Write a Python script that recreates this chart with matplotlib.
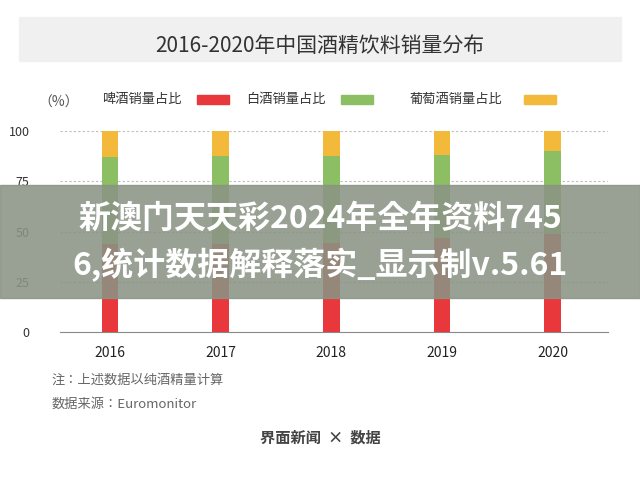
import matplotlib
matplotlib.use("Agg")
import matplotlib.pyplot as plt
from matplotlib import font_manager
from matplotlib.patches import Rectangle
import numpy as np

avail = {f.name for f in font_manager.fontManager.ttflist}
cjk = [n for n in ["Noto Sans CJK SC", "Noto Sans CJK JP", "Noto Sans CJK TC", "Noto Sans CJK KR", "Noto Sans SC"] if n in avail]
if not cjk:
    cjk = [f.name for f in font_manager.fontManager.ttflist if "CJK" in f.name or "CJK" in f.fname][:1]
plt.rcParams["font.family"] = cjk + ["DejaVu Sans"]

years = ["2016", "2017", "2018", "2019", "2020"]
beer = [43.6, 43.6, 44.5, 47.0, 49.0]
baijiu = [43.8, 44.2, 43.3, 41.0, 41.0]
wine = [12.6, 12.2, 12.2, 12.0, 10.0]
yticks = [0, 25, 50, 75, 100]
series_names = ["啤酒销量占比", "白酒销量占比", "葡萄酒销量占比"]
colors = ["#e8383b", "#8cbf63", "#f3b93a"]

fig = plt.figure(figsize=(6.4, 4.86), dpi=100)
fig.patch.set_facecolor("white")
fig.add_artist(Rectangle((0.03, 0.875), 0.94, 0.09, transform=fig.transFigure, color="#f0f0f0", zorder=0))
fig.text(0.5, 0.905, "2016-2020年中国酒精饮料销量分布", ha="center", va="center", fontsize=15, color="#333333")

ax = fig.add_axes([0.094, 0.317, 0.856, 0.413])
x = np.arange(len(years))
bottom = np.zeros(len(years))
for vals, c in zip([beer, baijiu, wine], colors):
    ax.bar(x, vals, 0.15, bottom=bottom, color=c, zorder=3)
    bottom += np.array(vals)
ax.set_xlim(-0.45, len(years) - 0.5)
ax.set_ylim(0, 100)
ax.set_yticks(yticks)
ax.set_yticklabels([str(v) for v in yticks], fontsize=9, color="#333333")
ax.set_xticks(x)
ax.set_xticklabels(years, fontsize=10, color="#222222")
for v in yticks[1:]:
    ax.axhline(v, color="#bbbbbb", ls=(0, (2, 2)), lw=0.8, zorder=1)
for s in ["top", "right", "left"]:
    ax.spines[s].set_visible(False)
ax.spines["bottom"].set_color("#888888")
ax.tick_params(length=0, pad=10)
ax.yaxis.set_tick_params(pad=22)
fig.text(0.06, 0.78, "（%）", fontsize=10, color="#555555")

lx = [0.16, 0.385, 0.64]
for name, c, xx in zip(series_names, colors, lx):
    fig.text(xx, 0.795, name, fontsize=9.5, color="#333333", va="center")
    fig.add_artist(Rectangle((xx + 0.148 + (0.03 if len(name) > 6 else 0), 0.787), 0.05, 0.017,
                             transform=fig.transFigure, color=c))

fig.text(0.08, 0.21, "注：上述数据以纯酒精量计算", fontsize=9.5, color="#666666")
fig.text(0.08, 0.16, "数据来源：Euromonitor", fontsize=9.5, color="#666666")
fig.text(0.5, 0.09, "界面新闻  ×  数据", ha="center", fontsize=11, color="#444444", weight="bold")

fig.add_artist(Rectangle((0, 0.387), 1, 0.233, transform=fig.transFigure, color="#8a9485", alpha=0.88, zorder=10))
fig.text(0.5, 0.55, "新澳门天天彩2024年全年资料745", ha="center", va="center",
         fontsize=23, color="white", weight="bold", zorder=11)
fig.text(0.5, 0.455, "6,统计数据解释落实_显示制v.5.61", ha="center", va="center",
         fontsize=23, color="white", weight="bold", zorder=11)

fig.savefig("out.png", dpi=100)
